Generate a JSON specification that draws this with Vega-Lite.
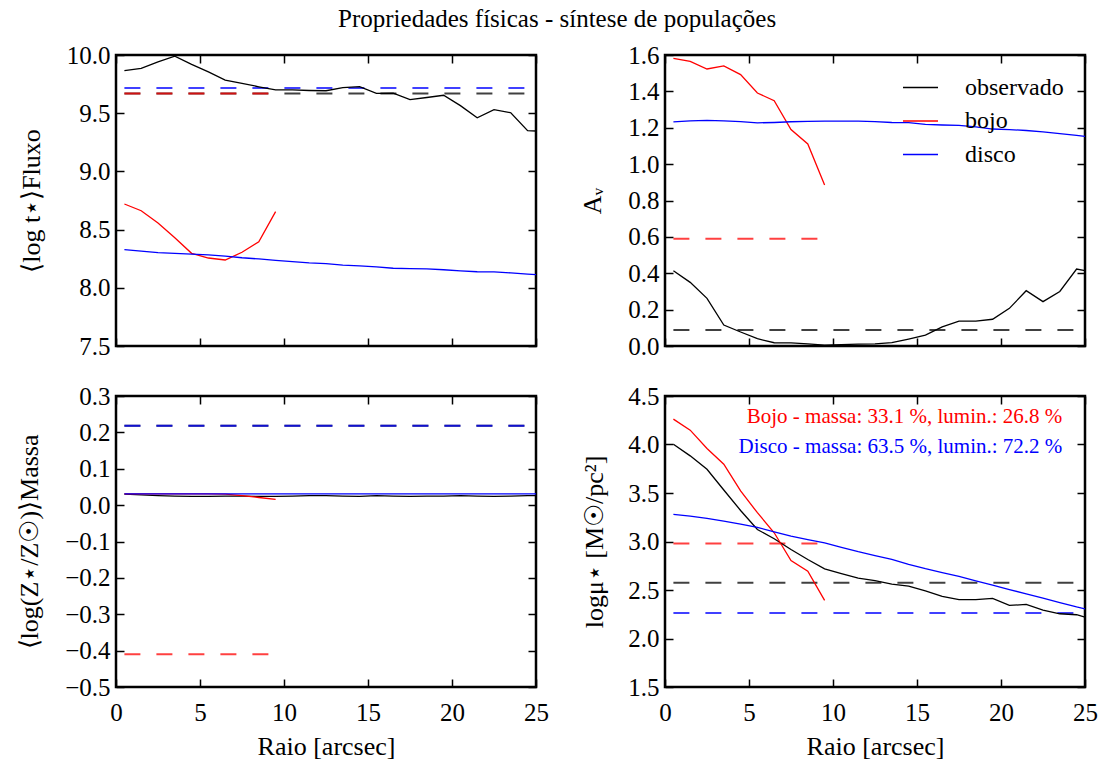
{
  "$schema": "https://vega.github.io/schema/vega-lite/v6.json",
  "background": "white",
  "padding": {"left": 15, "top": 6, "right": 30, "bottom": 5},
  "title": {"text": "Propriedades físicas - síntese de populações"},
  "columns": 2,
  "align": "each",
  "spacing": {"row": 21, "column": 28},
  "datasets": {
    "t_solid": [
      {"c":"observado","r":0.5,"v":9.865},{"c":"observado","r":1.5,"v":9.886},{"c":"observado","r":2.5,"v":9.94},{"c":"observado","r":3.5,"v":9.99},{"c":"observado","r":4.5,"v":9.92},{"c":"observado","r":5.5,"v":9.855},{"c":"observado","r":6.5,"v":9.785},{"c":"observado","r":7.5,"v":9.757},{"c":"observado","r":8.5,"v":9.727},{"c":"observado","r":9.5,"v":9.70},{"c":"observado","r":10.5,"v":9.70},{"c":"observado","r":11.5,"v":9.695},{"c":"observado","r":12.5,"v":9.693},{"c":"observado","r":13.5,"v":9.72},{"c":"observado","r":14.5,"v":9.728},{"c":"observado","r":15.5,"v":9.67},{"c":"observado","r":16.5,"v":9.673},{"c":"observado","r":17.5,"v":9.616},{"c":"observado","r":18.5,"v":9.635},{"c":"observado","r":19.5,"v":9.654},{"c":"observado","r":20.5,"v":9.565},{"c":"observado","r":21.5,"v":9.46},{"c":"observado","r":22.5,"v":9.53},{"c":"observado","r":23.5,"v":9.504},{"c":"observado","r":24.5,"v":9.35},{"c":"observado","r":25,"v":9.347},
      {"c":"bojo","r":0.5,"v":8.72},{"c":"bojo","r":1.5,"v":8.662},{"c":"bojo","r":2.5,"v":8.557},{"c":"bojo","r":3.5,"v":8.43},{"c":"bojo","r":4.5,"v":8.296},{"c":"bojo","r":5.5,"v":8.256},{"c":"bojo","r":6.5,"v":8.239},{"c":"bojo","r":7.5,"v":8.305},{"c":"bojo","r":8.5,"v":8.396},{"c":"bojo","r":9.5,"v":8.654},
      {"c":"disco","r":0.5,"v":8.328},{"c":"disco","r":1.5,"v":8.315},{"c":"disco","r":2.5,"v":8.302},{"c":"disco","r":3.5,"v":8.296},{"c":"disco","r":4.5,"v":8.29},{"c":"disco","r":5.5,"v":8.283},{"c":"disco","r":6.5,"v":8.272},{"c":"disco","r":7.5,"v":8.258},{"c":"disco","r":8.5,"v":8.248},{"c":"disco","r":9.5,"v":8.236},{"c":"disco","r":10.5,"v":8.225},{"c":"disco","r":11.5,"v":8.214},{"c":"disco","r":12.5,"v":8.208},{"c":"disco","r":13.5,"v":8.195},{"c":"disco","r":14.5,"v":8.188},{"c":"disco","r":15.5,"v":8.18},{"c":"disco","r":16.5,"v":8.168},{"c":"disco","r":17.5,"v":8.165},{"c":"disco","r":18.5,"v":8.162},{"c":"disco","r":19.5,"v":8.155},{"c":"disco","r":20.5,"v":8.145},{"c":"disco","r":21.5,"v":8.138},{"c":"disco","r":22.5,"v":8.137},{"c":"disco","r":23.5,"v":8.128},{"c":"disco","r":24.5,"v":8.118},{"c":"disco","r":25,"v":8.113}
    ],
    "t_dash": [
      {"c":"observado","r":0.5,"v":9.67},{"c":"observado","r":24.5,"v":9.67},
      {"c":"bojo","r":0.5,"v":9.67},{"c":"bojo","r":9.5,"v":9.67},
      {"c":"disco","r":0.5,"v":9.717},{"c":"disco","r":24.5,"v":9.717}
    ],
    "a_solid": [
      {"c":"observado","r":0.5,"v":0.414},{"c":"observado","r":1.5,"v":0.35},{"c":"observado","r":2.5,"v":0.262},{"c":"observado","r":3.5,"v":0.115},{"c":"observado","r":4.5,"v":0.077},{"c":"observado","r":5.5,"v":0.04},{"c":"observado","r":6.5,"v":0.018},{"c":"observado","r":7.5,"v":0.017},{"c":"observado","r":8.5,"v":0.012},{"c":"observado","r":9.5,"v":0.005},{"c":"observado","r":10.5,"v":0.008},{"c":"observado","r":11.5,"v":0.01},{"c":"observado","r":12.5,"v":0.012},{"c":"observado","r":13.5,"v":0.018},{"c":"observado","r":14.5,"v":0.038},{"c":"observado","r":15.5,"v":0.06},{"c":"observado","r":16.5,"v":0.105},{"c":"observado","r":17.5,"v":0.137},{"c":"observado","r":18.5,"v":0.137},{"c":"observado","r":19.5,"v":0.147},{"c":"observado","r":20.5,"v":0.207},{"c":"observado","r":21.5,"v":0.304},{"c":"observado","r":22.5,"v":0.244},{"c":"observado","r":23.5,"v":0.3},{"c":"observado","r":24.5,"v":0.423},{"c":"observado","r":25,"v":0.414},
      {"c":"bojo","r":0.5,"v":1.582},{"c":"bojo","r":1.5,"v":1.565},{"c":"bojo","r":2.5,"v":1.523},{"c":"bojo","r":3.5,"v":1.54},{"c":"bojo","r":4.5,"v":1.492},{"c":"bojo","r":5.5,"v":1.391},{"c":"bojo","r":6.5,"v":1.349},{"c":"bojo","r":7.5,"v":1.19},{"c":"bojo","r":8.5,"v":1.111},{"c":"bojo","r":9.5,"v":0.885},
      {"c":"disco","r":0.5,"v":1.232},{"c":"disco","r":1.5,"v":1.238},{"c":"disco","r":2.5,"v":1.241},{"c":"disco","r":3.5,"v":1.238},{"c":"disco","r":4.5,"v":1.234},{"c":"disco","r":5.5,"v":1.227},{"c":"disco","r":6.5,"v":1.229},{"c":"disco","r":7.5,"v":1.233},{"c":"disco","r":8.5,"v":1.235},{"c":"disco","r":9.5,"v":1.236},{"c":"disco","r":10.5,"v":1.236},{"c":"disco","r":11.5,"v":1.236},{"c":"disco","r":12.5,"v":1.234},{"c":"disco","r":13.5,"v":1.229},{"c":"disco","r":14.5,"v":1.228},{"c":"disco","r":15.5,"v":1.219},{"c":"disco","r":16.5,"v":1.215},{"c":"disco","r":17.5,"v":1.213},{"c":"disco","r":18.5,"v":1.205},{"c":"disco","r":19.5,"v":1.193},{"c":"disco","r":20.5,"v":1.19},{"c":"disco","r":21.5,"v":1.185},{"c":"disco","r":22.5,"v":1.177},{"c":"disco","r":23.5,"v":1.168},{"c":"disco","r":24.5,"v":1.158},{"c":"disco","r":25,"v":1.153}
    ],
    "a_dash": [
      {"c":"observado","r":0.5,"v":0.088},{"c":"observado","r":24.5,"v":0.088},
      {"c":"bojo","r":0.5,"v":0.59},{"c":"bojo","r":9.5,"v":0.59}
    ],
    "z_solid": [
      {"c":"observado","r":0.5,"v":0.03},{"c":"observado","r":1.5,"v":0.028},{"c":"observado","r":2.5,"v":0.026},{"c":"observado","r":3.5,"v":0.025},{"c":"observado","r":4.5,"v":0.024},{"c":"observado","r":5.5,"v":0.024},{"c":"observado","r":6.5,"v":0.025},{"c":"observado","r":7.5,"v":0.025},{"c":"observado","r":8.5,"v":0.024},{"c":"observado","r":9.5,"v":0.024},{"c":"observado","r":10.5,"v":0.025},{"c":"observado","r":11.5,"v":0.026},{"c":"observado","r":12.5,"v":0.026},{"c":"observado","r":13.5,"v":0.025},{"c":"observado","r":14.5,"v":0.024},{"c":"observado","r":15.5,"v":0.026},{"c":"observado","r":16.5,"v":0.025},{"c":"observado","r":17.5,"v":0.024},{"c":"observado","r":18.5,"v":0.025},{"c":"observado","r":19.5,"v":0.025},{"c":"observado","r":20.5,"v":0.026},{"c":"observado","r":21.5,"v":0.025},{"c":"observado","r":22.5,"v":0.024},{"c":"observado","r":23.5,"v":0.025},{"c":"observado","r":24.5,"v":0.026},{"c":"observado","r":25,"v":0.026},
      {"c":"bojo","r":0.5,"v":0.031},{"c":"bojo","r":1.5,"v":0.031},{"c":"bojo","r":2.5,"v":0.031},{"c":"bojo","r":3.5,"v":0.031},{"c":"bojo","r":4.5,"v":0.031},{"c":"bojo","r":5.5,"v":0.031},{"c":"bojo","r":6.5,"v":0.03},{"c":"bojo","r":7.5,"v":0.026},{"c":"bojo","r":8.5,"v":0.021},{"c":"bojo","r":9.5,"v":0.016},
      {"c":"disco","r":0.5,"v":0.031},{"c":"disco","r":5.5,"v":0.031},{"c":"disco","r":10.5,"v":0.031},{"c":"disco","r":15.5,"v":0.031},{"c":"disco","r":20.5,"v":0.031},{"c":"disco","r":25,"v":0.031}
    ],
    "z_dash": [
      {"c":"observado","r":0.5,"v":0.218},{"c":"observado","r":24.5,"v":0.218},
      {"c":"bojo","r":0.5,"v":-0.41},{"c":"bojo","r":9.5,"v":-0.41},
      {"c":"disco","r":0.5,"v":0.218},{"c":"disco","r":24.5,"v":0.218}
    ],
    "m_solid": [
      {"c":"observado","r":0.5,"v":4.003},{"c":"observado","r":1.5,"v":3.883},{"c":"observado","r":2.5,"v":3.745},{"c":"observado","r":3.5,"v":3.531},{"c":"observado","r":4.5,"v":3.32},{"c":"observado","r":5.5,"v":3.124},{"c":"observado","r":6.5,"v":3.028},{"c":"observado","r":7.5,"v":2.917},{"c":"observado","r":8.5,"v":2.814},{"c":"observado","r":9.5,"v":2.718},{"c":"observado","r":10.5,"v":2.67},{"c":"observado","r":11.5,"v":2.622},{"c":"observado","r":12.5,"v":2.597},{"c":"observado","r":13.5,"v":2.56},{"c":"observado","r":14.5,"v":2.54},{"c":"observado","r":15.5,"v":2.49},{"c":"observado","r":16.5,"v":2.434},{"c":"observado","r":17.5,"v":2.40},{"c":"observado","r":18.5,"v":2.40},{"c":"observado","r":19.5,"v":2.414},{"c":"observado","r":20.5,"v":2.341},{"c":"observado","r":21.5,"v":2.351},{"c":"observado","r":22.5,"v":2.293},{"c":"observado","r":23.5,"v":2.255},{"c":"observado","r":24.5,"v":2.245},{"c":"observado","r":25,"v":2.221},
      {"c":"bojo","r":0.5,"v":4.262},{"c":"bojo","r":1.5,"v":4.148},{"c":"bojo","r":2.5,"v":3.959},{"c":"bojo","r":3.5,"v":3.797},{"c":"bojo","r":4.5,"v":3.521},{"c":"bojo","r":5.5,"v":3.297},{"c":"bojo","r":6.5,"v":3.09},{"c":"bojo","r":7.5,"v":2.803},{"c":"bojo","r":8.5,"v":2.693},{"c":"bojo","r":9.5,"v":2.393},
      {"c":"disco","r":0.5,"v":3.279},{"c":"disco","r":1.5,"v":3.262},{"c":"disco","r":2.5,"v":3.238},{"c":"disco","r":3.5,"v":3.21},{"c":"disco","r":4.5,"v":3.18},{"c":"disco","r":5.5,"v":3.145},{"c":"disco","r":6.5,"v":3.10},{"c":"disco","r":7.5,"v":3.055},{"c":"disco","r":8.5,"v":3.02},{"c":"disco","r":9.5,"v":2.985},{"c":"disco","r":10.5,"v":2.94},{"c":"disco","r":11.5,"v":2.895},{"c":"disco","r":12.5,"v":2.855},{"c":"disco","r":13.5,"v":2.815},{"c":"disco","r":14.5,"v":2.765},{"c":"disco","r":15.5,"v":2.72},{"c":"disco","r":16.5,"v":2.68},{"c":"disco","r":17.5,"v":2.64},{"c":"disco","r":18.5,"v":2.595},{"c":"disco","r":19.5,"v":2.55},{"c":"disco","r":20.5,"v":2.505},{"c":"disco","r":21.5,"v":2.46},{"c":"disco","r":22.5,"v":2.415},{"c":"disco","r":23.5,"v":2.37},{"c":"disco","r":24.5,"v":2.325},{"c":"disco","r":25,"v":2.305}
    ],
    "m_dash": [
      {"c":"observado","r":0.5,"v":2.576},{"c":"observado","r":24.5,"v":2.576},
      {"c":"bojo","r":0.5,"v":2.98},{"c":"bojo","r":9.5,"v":2.98},
      {"c":"disco","r":0.5,"v":2.262},{"c":"disco","r":24.5,"v":2.262}
    ],
    "m_text": [
      {"c":"bojo","r":23.65,"v":4.283,"label":"Bojo - massa: 33.1 %, lumin.: 26.8 %"},
      {"c":"disco","r":23.65,"v":3.972,"label":"Disco - massa: 63.5 %, lumin.: 72.2 %"}
    ]
  },
  "concat": [
    {
      "width": 420, "height": 291,
      "layer": [
        {
          "data": {"name": "t_dash"},
          "mark": {"type": "line", "strokeDash": [16, 16], "strokeWidth": 2, "opacity": 0.75, "clip": true},
          "encoding": {
            "x": {"field": "r", "type": "quantitative", "scale": {"domain": [0, 25], "nice": false, "zero": false}, "axis": {"orient": "bottom", "values": [0, 5, 10, 15, 20, 25], "labels": false, "title": null}},
            "y": {"field": "v", "type": "quantitative", "scale": {"domain": [7.5, 10], "nice": false, "zero": false}, "axis": {"orient": "left", "values": [7.5, 8, 8.5, 9, 9.5, 10], "format": ".1f", "title": "⟨log t⋆⟩Fluxo"}},
            "stroke": {"field": "c", "type": "nominal", "scale": {"domain": ["bojo", "disco", "observado"], "range": ["red", "blue", "black"]}, "legend": null}
          }
        },
        {
          "data": {"name": "t_solid"},
          "mark": {"type": "line", "strokeWidth": 1.3, "clip": true},
          "encoding": {
            "x": {"field": "r", "type": "quantitative", "scale": {"domain": [0, 25], "nice": false, "zero": false}, "axis": {"orient": "top", "values": [0, 5, 10, 15, 20, 25], "labels": false, "title": null}},
            "y": {"field": "v", "type": "quantitative", "scale": {"domain": [7.5, 10], "nice": false, "zero": false}, "axis": {"orient": "right", "values": [7.5, 8, 8.5, 9, 9.5, 10], "labels": false, "title": null}},
            "stroke": {"field": "c", "type": "nominal", "scale": {"domain": ["bojo", "disco", "observado"], "range": ["red", "blue", "black"]}, "legend": null}
          }
        }
      ],
      "resolve": {"axis": {"x": "independent", "y": "independent"}}
    },
    {
      "width": 420, "height": 291,
      "layer": [
        {
          "data": {"name": "a_dash"},
          "mark": {"type": "line", "strokeDash": [16, 16], "strokeWidth": 2, "opacity": 0.75, "clip": true},
          "encoding": {
            "x": {"field": "r", "type": "quantitative", "scale": {"domain": [0, 25], "nice": false, "zero": false}, "axis": {"orient": "bottom", "values": [0, 5, 10, 15, 20, 25], "labels": false, "title": null}},
            "y": {"field": "v", "type": "quantitative", "scale": {"domain": [0, 1.6], "nice": false, "zero": false}, "axis": {"orient": "left", "values": [0, 0.2, 0.4, 0.6, 0.8, 1.0, 1.2, 1.4, 1.6], "format": ".1f", "title": "Aᵥ"}},
            "stroke": {"field": "c", "type": "nominal", "scale": {"domain": ["bojo", "disco", "observado"], "range": ["red", "blue", "black"]}, "legend": null}
          }
        },
        {
          "data": {"name": "a_solid"},
          "mark": {"type": "line", "strokeWidth": 1.3, "clip": true},
          "encoding": {
            "x": {"field": "r", "type": "quantitative", "scale": {"domain": [0, 25], "nice": false, "zero": false}, "axis": {"orient": "top", "values": [0, 5, 10, 15, 20, 25], "labels": false, "title": null}},
            "y": {"field": "v", "type": "quantitative", "scale": {"domain": [0, 1.6], "nice": false, "zero": false}, "axis": {"orient": "right", "values": [0, 0.2, 0.4, 0.6, 0.8, 1.0, 1.2, 1.4, 1.6], "labels": false, "title": null}},
            "color": {"field": "c", "type": "nominal", "scale": {"domain": ["observado", "bojo", "disco"], "range": ["black", "red", "blue"]},
              "legend": {"orient": "none", "legendX": 786, "legendY": 14, "title": null, "padding": 0, "symbolType": "stroke", "symbolSize": 1225, "symbolStrokeWidth": 1.5, "labelFontSize": 24, "labelFont": "Liberation Serif", "labelColor": "black", "labelOffset": 26, "labelLimit": 300, "rowPadding": 2.5}}
          }
        }
      ],
      "resolve": {"axis": {"x": "independent", "y": "independent"}}
    },
    {
      "width": 420, "height": 291,
      "layer": [
        {
          "data": {"name": "z_dash"},
          "mark": {"type": "line", "strokeDash": [16, 16], "strokeWidth": 2, "opacity": 0.75, "clip": true},
          "encoding": {
            "x": {"field": "r", "type": "quantitative", "scale": {"domain": [0, 25], "nice": false, "zero": false}, "axis": {"orient": "bottom", "values": [0, 5, 10, 15, 20, 25], "format": "d", "title": "Raio [arcsec]", "labelPadding": 21, "titlePadding": 8}},
            "y": {"field": "v", "type": "quantitative", "scale": {"domain": [-0.5, 0.3], "nice": false, "zero": false}, "axis": {"orient": "left", "values": [-0.5, -0.4, -0.3, -0.2, -0.1, 0, 0.1, 0.2, 0.3], "format": ".1f", "title": "⟨log(Z⋆/Z☉)⟩Massa"}},
            "stroke": {"field": "c", "type": "nominal", "scale": {"domain": ["bojo", "disco", "observado"], "range": ["red", "blue", "black"]}, "legend": null}
          }
        },
        {
          "data": {"name": "z_solid"},
          "mark": {"type": "line", "strokeWidth": 1.3, "clip": true},
          "encoding": {
            "x": {"field": "r", "type": "quantitative", "scale": {"domain": [0, 25], "nice": false, "zero": false}, "axis": {"orient": "top", "values": [0, 5, 10, 15, 20, 25], "labels": false, "title": null}},
            "y": {"field": "v", "type": "quantitative", "scale": {"domain": [-0.5, 0.3], "nice": false, "zero": false}, "axis": {"orient": "right", "values": [-0.5, -0.4, -0.3, -0.2, -0.1, 0, 0.1, 0.2, 0.3], "labels": false, "title": null}},
            "stroke": {"field": "c", "type": "nominal", "scale": {"domain": ["bojo", "disco", "observado"], "range": ["red", "blue", "black"]}, "legend": null}
          }
        }
      ],
      "resolve": {"axis": {"x": "independent", "y": "independent"}}
    },
    {
      "width": 420, "height": 291,
      "layer": [
        {
          "data": {"name": "m_dash"},
          "mark": {"type": "line", "strokeDash": [16, 16], "strokeWidth": 2, "opacity": 0.75, "clip": true},
          "encoding": {
            "x": {"field": "r", "type": "quantitative", "scale": {"domain": [0, 25], "nice": false, "zero": false}, "axis": {"orient": "bottom", "values": [0, 5, 10, 15, 20, 25], "format": "d", "title": "Raio [arcsec]", "labelPadding": 21, "titlePadding": 8}},
            "y": {"field": "v", "type": "quantitative", "scale": {"domain": [1.5, 4.5], "nice": false, "zero": false}, "axis": {"orient": "left", "values": [1.5, 2, 2.5, 3, 3.5, 4, 4.5], "format": ".1f", "title": "logμ⋆ [M☉/pc²]", "titlePadding": 20}},
            "stroke": {"field": "c", "type": "nominal", "scale": {"domain": ["bojo", "disco", "observado"], "range": ["red", "blue", "black"]}, "legend": null}
          }
        },
        {
          "data": {"name": "m_solid"},
          "mark": {"type": "line", "strokeWidth": 1.3, "clip": true},
          "encoding": {
            "x": {"field": "r", "type": "quantitative", "scale": {"domain": [0, 25], "nice": false, "zero": false}, "axis": {"orient": "top", "values": [0, 5, 10, 15, 20, 25], "labels": false, "title": null}},
            "y": {"field": "v", "type": "quantitative", "scale": {"domain": [1.5, 4.5], "nice": false, "zero": false}, "axis": {"orient": "right", "values": [1.5, 2, 2.5, 3, 3.5, 4, 4.5], "labels": false, "title": null}},
            "stroke": {"field": "c", "type": "nominal", "scale": {"domain": ["bojo", "disco", "observado"], "range": ["red", "blue", "black"]}, "legend": null}
          }
        },
        {
          "data": {"name": "m_text"},
          "transform": [{"filter": "datum.c === 'bojo'"}],
          "mark": {"type": "text", "align": "right", "baseline": "middle", "fontSize": 21, "font": "Liberation Serif", "color": "red"},
          "encoding": {
            "x": {"field": "r", "type": "quantitative", "scale": {"domain": [0, 25], "nice": false, "zero": false}, "axis": null},
            "y": {"field": "v", "type": "quantitative", "scale": {"domain": [1.5, 4.5], "nice": false, "zero": false}, "axis": null},
            "text": {"field": "label"}
          }
        },
        {
          "data": {"name": "m_text"},
          "transform": [{"filter": "datum.c === 'disco'"}],
          "mark": {"type": "text", "align": "right", "baseline": "middle", "fontSize": 21, "font": "Liberation Serif", "color": "blue"},
          "encoding": {
            "x": {"field": "r", "type": "quantitative", "scale": {"domain": [0, 25], "nice": false, "zero": false}, "axis": null},
            "y": {"field": "v", "type": "quantitative", "scale": {"domain": [1.5, 4.5], "nice": false, "zero": false}, "axis": null},
            "text": {"field": "label"}
          }
        }
      ],
      "resolve": {"axis": {"x": "independent", "y": "independent"}}
    }
  ],
  "config": {
    "font": "Liberation Serif",
    "view": {"stroke": "black", "strokeWidth": 2.5},
    "axis": {"domain": false, "grid": false, "ticks": true, "tickSize": -8, "tickWidth": 1.5, "tickColor": "black", "labelFont": "Liberation Serif", "labelFontSize": 25, "labelColor": "black", "labelPadding": 14, "labelFlush": false, "labelOverlap": false, "titleFont": "Liberation Serif", "titleFontSize": 26, "titleFontWeight": "normal", "titleColor": "black", "titlePadding": 22},
    "title": {"font": "Liberation Serif", "fontSize": 25, "fontWeight": "normal", "color": "black", "anchor": "middle", "offset": 10}
  }
}
